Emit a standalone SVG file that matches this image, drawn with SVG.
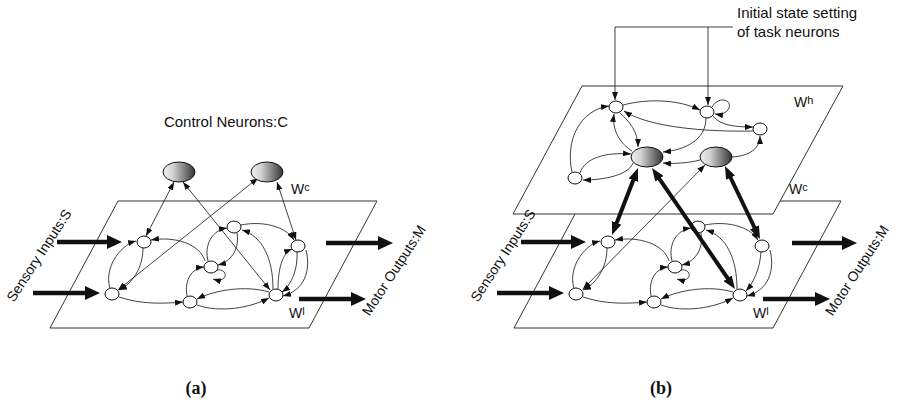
<svg xmlns="http://www.w3.org/2000/svg" width="904" height="408" viewBox="0 0 904 408">
<defs>
  <linearGradient id="gray" x1="0" y1="0" x2="1" y2="0">
    <stop offset="0" stop-color="#efefef"/>
    <stop offset="0.3" stop-color="#d4d4d4"/>
    <stop offset="1" stop-color="#333"/>
  </linearGradient>
  <marker id="ah" viewBox="0 0 8 6" refX="8" refY="3" markerWidth="8" markerHeight="6" markerUnits="userSpaceOnUse" orient="auto-start-reverse">
    <path d="M0,0 L8,3 L0,6 z" fill="#111"/>
  </marker>
  <marker id="ahk" viewBox="0 0 13 10" refX="3" refY="5" markerWidth="13" markerHeight="10" markerUnits="userSpaceOnUse" orient="auto-start-reverse">
    <path d="M0,0 L13,5 L0,10 z" fill="#111"/>
  </marker>
  <marker id="ahb" viewBox="0 0 15 14" refX="4" refY="7" markerWidth="15" markerHeight="14" markerUnits="userSpaceOnUse" orient="auto">
    <path d="M0,0 L15,7 L0,14 z" fill="#111"/>
  </marker>
</defs>
<style>
  .plane { fill: #fff; stroke: #333; stroke-width: 1; }
  .e { fill: none; stroke: #111; stroke-width: 0.8; marker-end: url(#ah); }
  .d { fill: none; stroke: #111; stroke-width: 0.8; marker-end: url(#ah); marker-start: url(#ah); }
  .k { fill: none; stroke: #111; stroke-width: 4; marker-end: url(#ahk); marker-start: url(#ahk); }
  .io { fill: none; stroke: #111; stroke-width: 4.5; marker-end: url(#ahb); }
  .n { fill: #fff; stroke: #111; stroke-width: 1; }
  .c { fill: url(#gray); stroke: #111; stroke-width: 1; }
  .t { font-family: "Liberation Sans", Arial, sans-serif; fill: #111; }
  .w { font-family: "Liberation Sans", Arial, sans-serif; fill: #111; font-size: 14px; }
  .sup { font-size: 11px; }
  .lab { font-family: "Liberation Serif", "Times New Roman", serif; font-weight: bold; font-size: 18px; fill: #111; text-anchor: middle; }
</style>

<!-- ============ Panel (a) ============ -->
<polygon class="plane" points="118,201 377,201 309,328 50,328"/>

<g id="a-edges">
  <path class="e" d="M110,288 C104,270 118,246 136,241"/>
  <path class="e" d="M143,248 C143,268 132,284 119,290"/>
  <path class="e" d="M205,261 C200,244 175,236 151,240"/>
  <path class="e" d="M119,297 C140,304 160,304 183,302"/>
  <path class="e" d="M187,296 C184,280 192,268 204,267"/>
  <path class="e" d="M217,270 C228,268 229,284 213,279"/>
  <path class="e" d="M208,261 C204,245 212,230 227,228"/>
  <path class="e" d="M237,233 C240,250 230,262 218,265"/>
  <path class="e" d="M241,225 C260,221 285,225 294,240"/>
  <path class="e" d="M273,289 C273,258 262,236 242,230"/>
  <path class="e" d="M278,289 C278,270 282,253 292,249"/>
  <path class="e" d="M297,252 C298,268 292,285 282,292"/>
  <path class="e" d="M306,250 C311,270 305,290 283,296"/>
  <path class="e" d="M269,292 C245,285 215,290 197,299"/>
  <path class="e" d="M197,305 C220,313 250,308 269,298"/>
  <path class="d" d="M174,182 L146,236"/>
  <path class="d" d="M183,182 L270,290"/>
  <path class="d" d="M258,178 L118,290"/>
  <path class="d" d="M277,182 L296,240"/>
  <line class="io" x1="57" y1="242" x2="111" y2="242"/>
  <line class="io" x1="33" y1="293" x2="89" y2="293"/>
  <line class="io" x1="326" y1="243" x2="382" y2="243"/>
  <line class="io" x1="299" y1="299" x2="355" y2="299"/>
</g>

<g id="a-n1"><ellipse class="n" cx="144" cy="242" rx="7" ry="6"/></g>
<g id="a-n2"><ellipse class="n" cx="112" cy="294" rx="7" ry="6"/></g>
<g id="a-n3"><ellipse class="n" cx="234" cy="227" rx="7" ry="6"/></g>
<g id="a-n4"><ellipse class="n" cx="211" cy="267" rx="7" ry="6"/></g>
<g id="a-n5"><ellipse class="n" cx="190" cy="302" rx="7" ry="6"/></g>
<g id="a-n6"><ellipse class="n" cx="276" cy="295" rx="7" ry="6"/></g>
<g id="a-n7"><ellipse class="n" cx="298" cy="246" rx="7" ry="6"/></g>
<g id="a-c1"><ellipse class="c" cx="179" cy="172" rx="16" ry="10"/></g>
<g id="a-c2"><ellipse class="c" cx="267" cy="172" rx="16" ry="10"/></g>

<text class="t" x="226" y="127" font-size="15" text-anchor="middle">Control Neurons:C</text>
<text class="w" x="291" y="194">W<tspan class="sup" dy="-3">c</tspan></text>
<text class="w" x="289" y="318">W<tspan class="sup" dy="-3">l</tspan></text>
<text class="t" font-size="14" text-anchor="middle" transform="translate(43,258) rotate(-57)">Sensory Inputs:S</text>
<text class="t" font-size="14" text-anchor="middle" transform="translate(398,273) rotate(-57)">Motor  Outputs:M</text>
<text class="lab" x="196" y="394">(a)</text>

<!-- ============ Panel (b) ============ -->
<polygon class="plane" points="582,201 841,201 773,328 514,328"/>

<g id="b-lower-edges" transform="translate(464,0)">
  <path class="e" d="M110,288 C104,270 118,246 136,241"/>
  <path class="e" d="M143,248 C143,268 132,284 119,290"/>
  <path class="e" d="M205,261 C200,244 175,236 151,240"/>
  <path class="e" d="M119,297 C140,304 160,304 183,302"/>
  <path class="e" d="M187,296 C184,280 192,268 204,267"/>
  <path class="e" d="M217,270 C228,268 229,284 213,279"/>
  <path class="e" d="M208,261 C204,245 212,230 227,228"/>
  <path class="e" d="M237,233 C240,250 230,262 218,265"/>
  <path class="e" d="M241,225 C260,221 285,225 294,240"/>
  <path class="e" d="M273,289 C273,258 262,236 242,230"/>
  <path class="e" d="M297,252 C296,268 290,282 282,291"/>
  <path class="e" d="M306,250 C311,270 305,290 283,296"/>
  <path class="e" d="M269,292 C245,285 215,290 197,299"/>
  <path class="e" d="M197,305 C220,313 250,308 269,298"/>
  <line class="io" x1="57" y1="242" x2="111" y2="242"/>
  <line class="io" x1="33" y1="293" x2="89" y2="293"/>
  <line class="io" x1="328" y1="243" x2="382" y2="243"/>
  <line class="io" x1="299" y1="299" x2="355" y2="299"/>
</g>

<g id="b-n1"><ellipse class="n" cx="608" cy="242" rx="7" ry="6"/></g>
<g id="b-n2"><ellipse class="n" cx="576" cy="294" rx="7" ry="6"/></g>
<g id="b-n3"><ellipse class="n" cx="698" cy="227" rx="7" ry="6"/></g>
<g id="b-n4"><ellipse class="n" cx="675" cy="267" rx="7" ry="6"/></g>
<g id="b-n5"><ellipse class="n" cx="654" cy="302" rx="7" ry="6"/></g>
<g id="b-n6"><ellipse class="n" cx="740" cy="295" rx="7" ry="6"/></g>
<g id="b-n7"><ellipse class="n" cx="762" cy="246" rx="7" ry="6"/></g>

<polygon class="plane" points="582,86 843,86 773,214 513,214"/>

<g id="b-upper-edges">
  <path class="e" d="M623,105 C650,98 680,100 700,110"/>
  <path class="e" d="M712,107 C718,96 732,99 729,108 C727,113 721,115 715,114"/>
  <path class="e" d="M753,131 C710,132 650,128 624,111"/>
  <path class="e" d="M713,116 C720,126 738,127 753,127"/>
  <path class="e" d="M706,118 C706,140 685,150 663,152"/>
  <path class="e" d="M732,157 C750,156 760,148 760,136"/>
  <path class="e" d="M700,160 C688,163 675,164 663,163"/>
  <path class="e" d="M620,113 C630,122 638,132 638,147"/>
  <path class="e" d="M632,151 C618,142 612,128 614,114"/>
  <path class="e" d="M572,172 C565,140 580,110 609,106"/>
  <path class="e" d="M580,173 C585,158 605,152 631,154"/>
  <path class="e" d="M633,163 C628,175 605,180 583,180"/>
  <path class="e" d="M733,27 L615,27 L615,100"/>
  <path class="e" d="M708,27 L708,105"/>
</g>

<g id="b-h1"><ellipse class="n" cx="616" cy="107" rx="7" ry="6"/></g>
<g id="b-h2"><ellipse class="n" cx="707" cy="112" rx="7" ry="6"/></g>
<g id="b-h3"><ellipse class="n" cx="760" cy="129" rx="7" ry="6"/></g>
<g id="b-h4"><ellipse class="n" cx="575" cy="178" rx="7" ry="6"/></g>
<g id="b-c1"><ellipse class="c" cx="647" cy="157" rx="16" ry="10"/></g>
<g id="b-c2"><ellipse class="c" cx="716" cy="157" rx="16" ry="10"/></g>

<g id="b-cross">
  <line class="k" x1="634.4" y1="177.3" x2="615.6" y2="225.7"/>
  <line class="k" x1="657.7" y1="176.3" x2="729.3" y2="280.7"/>
  <line class="k" x1="729.3" y1="175" x2="755.7" y2="230"/>
  <path class="d" d="M705,165 L583,289"/>
</g>

<text class="t" x="737" y="18" font-size="15">Initial state setting</text>
<text class="t" x="737" y="37" font-size="15">of task neurons</text>
<text class="w" x="794" y="107">W<tspan class="sup" dy="-3">h</tspan></text>
<text class="w" x="789" y="194">W<tspan class="sup" dy="-3">c</tspan></text>
<text class="w" x="753" y="318">W<tspan class="sup" dy="-3">l</tspan></text>
<text class="t" font-size="14" text-anchor="middle" transform="translate(507,258) rotate(-57)">Sensory Inputs:S</text>
<text class="t" font-size="14" text-anchor="middle" transform="translate(861,273) rotate(-57)">Motor  Outputs:M</text>
<text class="lab" x="661" y="394">(b)</text>
</svg>
